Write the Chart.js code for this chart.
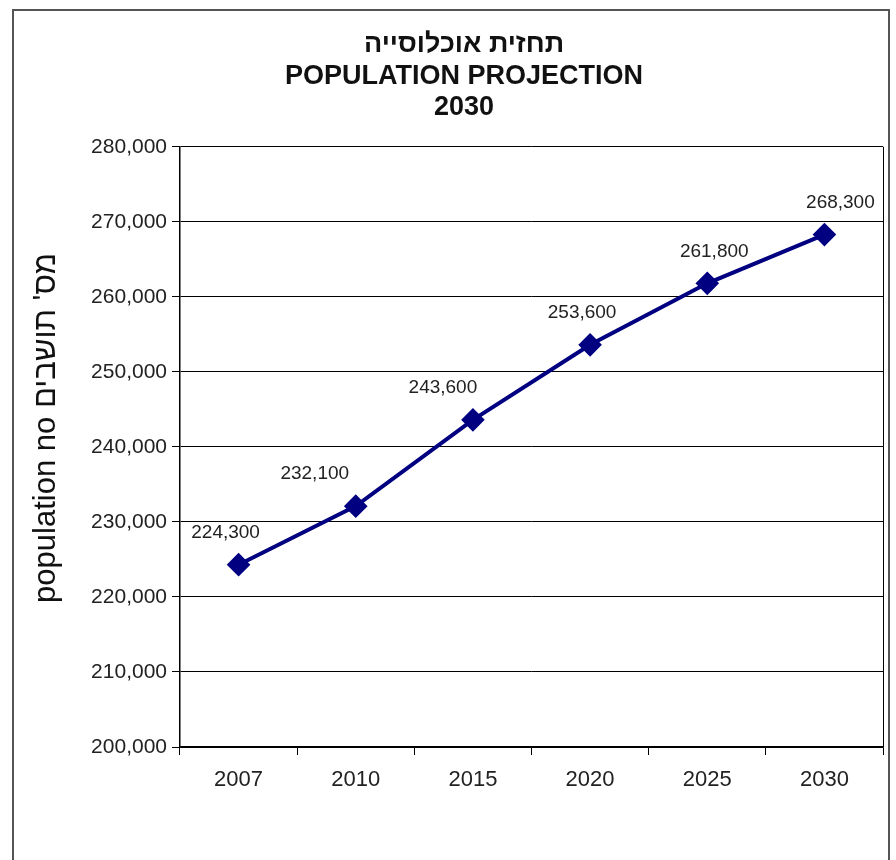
<!DOCTYPE html>
<html>
<head>
<meta charset="utf-8">
<script src="https://cdn.jsdelivr.net/npm/chart.js@4.4.1/dist/chart.umd.min.js"></script>
<style>
    html, body { margin: 0; padding: 0; background: #fff; }
    #wrap { position: relative; width: 896px; height: 860px; overflow: hidden; }
    #frame { position: absolute; left: 12px; top: 9px; width: 878px; height: 900px; border: 2px solid #555; box-sizing: border-box; }
    canvas { position: absolute; left: 0; top: 0; }
</style>
</head>
<body>
<div id="wrap">
    <div id="frame"></div>
    <canvas id="popChart" width="896" height="860"></canvas>
</div>
<script>
// chart data
const years = ['2007', '2010', '2015', '2020', '2025', '2030'];
const population = [224300, 232100, 243600, 253600, 261800, 268300];
const titleLines = ['תחזית אוכלוסייה', 'POPULATION PROJECTION', '2030'];
const yAxisTitle = "population no מס' תושבים";

// label nudges (style only)
const labelShiftX = [-13, -41, -30, -8, 7, 16];

const fontFamily = '"Liberation Sans", Arial, sans-serif';

const valueLabels = {
    id: 'valueLabels',
    afterDatasetsDraw(chart) {
        const ctx = chart.ctx;
        const meta = chart.getDatasetMeta(0);
        ctx.save();
        ctx.font = '19px ' + fontFamily;
        ctx.fillStyle = '#222';
        ctx.textAlign = 'center';
        ctx.textBaseline = 'middle';
        meta.data.forEach((pt, i) => {
            ctx.fillText(population[i].toLocaleString('en-US'), pt.x + labelShiftX[i], pt.y - 32);
        });
        ctx.restore();
    }
};

// right edge of plot + rotated y title
const extras = {
    id: 'extras',
    beforeDatasetsDraw(chart) {
        const a = chart.chartArea;
        const ctx = chart.ctx;
        ctx.save();
        ctx.strokeStyle = '#000';
        ctx.lineWidth = 1;
        ctx.beginPath();
        ctx.moveTo(a.right + 0.5, a.top);
        ctx.lineTo(a.right + 0.5, a.bottom);
        ctx.stroke();

        ctx.translate(a.left - 134, (a.top + a.bottom) / 2 - 19);
        ctx.rotate(-Math.PI / 2);
        ctx.font = '31px ' + fontFamily;
        ctx.fillStyle = '#111';
        ctx.textAlign = 'center';
        ctx.textBaseline = 'middle';
        ctx.fillText(yAxisTitle, 0, 0);
        ctx.restore();
    }
};

new Chart(document.getElementById('popChart'), {
    type: 'line',
    data: {
        labels: years,
        datasets: [{
            data: population,
            borderColor: '#000080',
            backgroundColor: '#000080',
            borderWidth: 4,
            pointStyle: 'rectRot',
            pointRadius: 9,
            pointHoverRadius: 9,
            tension: 0
        }]
    },
    options: {
        responsive: false,
        animation: false,
        layout: { padding: { top: 12, left: 45, right: 13, bottom: 0 } },
        plugins: {
            legend: { display: false },
            tooltip: { enabled: false },
            title: {
                display: true,
                text: titleLines,
                color: '#111',
                font: { family: fontFamily, size: 27, weight: 'bold', lineHeight: 1.17 },
                padding: { top: 17, bottom: 23 }
            }
        },
        scales: {
            x: {
                offset: true,
                grid: { offset: true, drawOnChartArea: false, drawTicks: true, tickLength: 8, color: '#000' },
                border: { color: '#000', width: 1.5 },
                ticks: { color: '#222', font: { family: fontFamily, size: 22 }, padding: 12 },
                afterFit(scale) { scale.height = 113; }
            },
            y: {
                min: 200000,
                max: 280000,
                ticks: {
                    stepSize: 10000,
                    color: '#222',
                    font: { family: fontFamily, size: 21 },
                    padding: 5,
                    callback: v => v.toLocaleString('en-US')
                },
                grid: { color: '#000', lineWidth: 1, tickLength: 8 },
                border: { color: '#000', width: 1.5 },
                afterFit(scale) { scale.width = 135; }
            }
        }
    },
    plugins: [valueLabels, extras]
});
</script>
</body>
</html>
